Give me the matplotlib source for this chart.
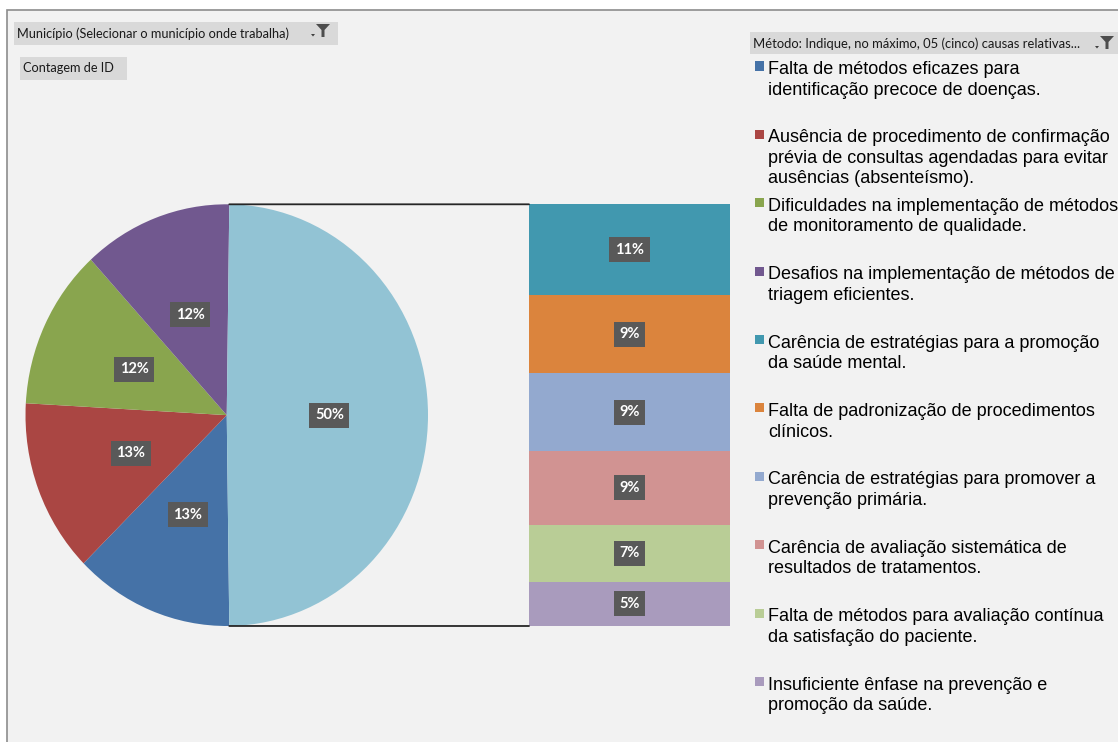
import numpy as np
import matplotlib
matplotlib.use('Agg')
import matplotlib.pyplot as plt
from matplotlib.patches import Rectangle, Polygon, ConnectionPatch

W, H = 1118, 742

# dados (percentuais)
main_labels = [
    'Falta de métodos eficazes para\nidentificação precoce de doenças.',
    'Ausência de procedimento de confirmação\nprévia de consultas agendadas para evitar\nausências (absenteísmo).',
    'Dificuldades na implementação de métodos\nde monitoramento de qualidade.',
    'Desafios na implementação de métodos de\ntriagem eficientes.',
]
main_values = [12.8, 13.3, 12.3, 12.0]
main_colors = ['#4572A7', '#AA4643', '#89A54E', '#71588F']

bar_labels = [
    'Carência de estratégias para a promoção\nda saúde mental.',
    'Falta de padronização de procedimentos\nclínicos.',
    'Carência de estratégias para promover a\nprevenção primária.',
    'Carência de avaliação sistemática de\nresultados de tratamentos.',
    'Falta de métodos para avaliação contínua\nda satisfação do paciente.',
    'Insuficiente ênfase na prevenção e\npromoção da saúde.',
]
bar_values = [10.7, 9.2, 9.1, 8.7, 6.7, 5.2]
bar_colors = ['#4198AF', '#DB843D', '#93A9CF', '#D19392', '#B9CD96', '#A99BBD']
other_color = '#92C3D4'

header_left = 'Município (Selecionar o município onde trabalha)'
header_value = 'Contagem de ID'
header_right = 'Método: Indique, no máximo, 05 (cinco) causas relativas...'


def fx(x):
    return x / W


def fy(y):
    return 1 - y / H


def box(x0, y0, x1, y1, color):
    fig.patches.append(Rectangle((fx(x0), fy(y1)), (x1 - x0) / W, (y1 - y0) / H,
                                 transform=fig.transFigure, fc=color, ec='none', zorder=-5))


def funnel(x, y):
    # ícone de filtro (setinha + funil)
    fig.patches.append(Polygon([(fx(x - 5), fy(y + 10)), (fx(x - 1), fy(y + 10)), (fx(x - 3), fy(y + 12.5))],
                               closed=True, transform=fig.transFigure, fc='#404040', ec='none'))
    pts = [(x, y), (x + 14, y), (x + 8.5, y + 6), (x + 8.5, y + 13), (x + 5.5, y + 13), (x + 5.5, y + 6)]
    fig.patches.append(Polygon([(fx(a), fy(b)) for a, b in pts], closed=True,
                               transform=fig.transFigure, fc='#4d4d4d', ec='none'))


fig = plt.figure(figsize=(W / 100, H / 100), dpi=100, facecolor='white')

# fundo da área do gráfico
fig.patches.append(Rectangle((fx(7), fy(H + 5)), (W + 5) / W, (H - 5) / H,
                             transform=fig.transFigure, fc='#F2F2F2', ec='#8C8C8C', lw=1.2, zorder=-10))

# botões do gráfico dinâmico
box(14, 22, 338, 45, '#D9D9D9')
fig.text(fx(17), fy(33.5), header_left, fontsize=9.2, family='Lato', va='center', color='#1a1a1a')
funnel(316, 24)
box(20, 57, 127, 80, '#D9D9D9')
fig.text(fx(23), fy(68.5), header_value, fontsize=9.2, family='Lato', va='center', color='#1a1a1a')
box(750, 32.5, W + 2, 54, '#D9D9D9')
fig.text(fx(753), fy(43.5), header_right, fontsize=9.4, family='Lato', va='center', color='#1a1a1a')
funnel(1100, 36)

label_box = dict(boxstyle='square,pad=0.38', fc='#595959', ec='none')
label_font = dict(color='white', fontsize=10.5, fontweight='bold', family='Lato')

# pizza principal (levemente esticada na vertical, como no original)
px0, px1, py0, py1 = 25.5, 428, 204.3, 626
ax_pie = fig.add_axes([fx(px0), fy(py1), (px1 - px0) / W, (py1 - py0) / H])
pie_values = main_values + [sum(bar_values)]
frac_main = sum(main_values) / sum(pie_values)
wedges, _, autotexts = ax_pie.pie(
    pie_values, colors=main_colors + [other_color], startangle=180 + 180 * frac_main,
    counterclock=False, radius=1, autopct=lambda p: f'{p:.0f}%', pctdistance=0.51,
    wedgeprops=dict(linewidth=0), textprops=label_font)
for t in autotexts:
    t.set_bbox(label_box)
ax_pie.set_aspect('auto')
ax_pie.set_xlim(-1, 1)
ax_pie.set_ylim(-1, 1)
ax_pie.axis('off')

# barra de "outros"
bx0, bx1, by0, by1 = 529, 730, 204.3, 626
ax_bar = fig.add_axes([fx(bx0), fy(by1), (bx1 - bx0) / W, (by1 - by0) / H])
total = sum(bar_values)
bottoms = total - np.cumsum(bar_values)
bars = ax_bar.bar(0, bar_values, bottom=bottoms, width=1, color=bar_colors, linewidth=0)
for rect, v in zip(bars, bar_values):
    ax_bar.text(0, rect.get_y() + rect.get_height() / 2, f'{v:.0f}%',
                ha='center', va='center', bbox=label_box, **label_font)
ax_bar.set_xlim(-0.5, 0.5)
ax_bar.set_ylim(0, total)
ax_bar.axis('off')

# linhas de ligação
other = wedges[-1]
for ang, yb in [(other.theta2, total), (other.theta1, 0)]:
    a = np.deg2rad(ang)
    con = ConnectionPatch(xyA=(np.cos(a), np.sin(a)), coordsA=ax_pie.transData,
                          xyB=(-0.5, yb), coordsB=ax_bar.transData, color='#262626', lw=1.3)
    fig.add_artist(con)

# legenda
legend_labels = main_labels + bar_labels
legend_colors = main_colors + bar_colors
for i, (lab, col) in enumerate(zip(legend_labels, legend_colors)):
    yc = 66 + i * 68.4
    box(755, yc - 4.5, 764, yc + 4.5, col)
    fig.text(fx(768), fy(yc - 5), lab, va='top', ha='left', fontsize=13,
             family='Liberation Sans', color='black', linespacing=1.27)

fig.savefig('out.png', dpi=100, facecolor=fig.get_facecolor())
